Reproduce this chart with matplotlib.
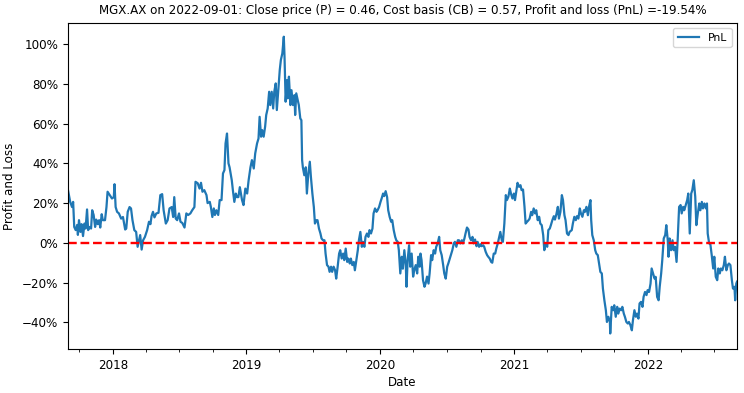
import pandas as pd
import matplotlib
matplotlib.use("Agg")
import matplotlib.pyplot as plt
import matplotlib.dates as mdates
from matplotlib.ticker import PercentFormatter

ticker = "MGX.AX"
as_of = "2022-09-01"
close_price = 0.46
cost_basis = 0.57
start = "2017-09-01"

# days since start, PnL in percent
days = [
    0, 6, 11, 14, 17, 21, 25, 27, 30, 34, 37, 41, 45, 48, 52, 55, 59, 63, 66, 70,
    74, 77, 81, 85, 88, 92, 95, 101, 105, 108, 114, 120, 125, 127, 130, 134, 139, 145, 150, 156,
    159, 163, 168, 172, 176, 181, 186, 190, 194, 197, 201, 205, 210, 216, 221, 225, 228, 232, 236, 241,
    247, 252, 257, 261, 267, 272, 277, 283, 287, 290, 294, 298, 303, 307, 312, 318, 323, 328, 334, 339,
    345, 348, 354, 359, 363, 367, 372, 378, 381, 387, 390, 394, 398, 401, 405, 410, 414, 419, 423, 427,
    430, 434, 438, 441, 447, 450, 454, 458, 461, 465, 469,
    475, 479, 484, 489, 493, 498, 502, 507, 511, 516, 520, 523, 527, 530, 534, 538, 541, 545, 549, 552,
    556, 560, 563, 567, 570, 574, 578, 581, 585, 589, 591, 594, 598, 600, 603, 607, 610, 614, 618, 620,
    623, 627, 630, 634, 637, 639, 641, 645, 649, 652, 656, 660, 663, 667, 671, 674, 678, 681, 685, 689,
    692, 696, 700, 703, 707, 711, 714, 718, 721, 725, 729, 732, 736, 740, 743, 747, 751, 754, 758, 762,
    765, 769, 772, 776, 780, 783, 787, 791, 794, 798, 802, 805, 809, 812, 816, 820, 823, 827, 831, 834,
    838, 842, 845, 849, 853, 856, 860, 863, 867, 871, 874, 878, 882, 885, 889, 893, 896, 900, 903, 907,
    911, 914, 918, 922, 924, 927, 931, 934, 938, 942, 945, 949, 953, 956, 960,
    962, 965, 969, 973, 976, 980, 984, 987, 991, 994, 998, 1002, 1005, 1009, 1013, 1016, 1020, 1024, 1027, 1031,
    1035, 1038, 1042, 1045, 1049, 1053, 1056, 1060, 1064, 1067, 1071, 1075, 1078, 1082, 1085, 1089, 1093, 1096, 1100, 1104,
    1107, 1111, 1115, 1118, 1122, 1126, 1129, 1133, 1136, 1140, 1144, 1147, 1151, 1155, 1158, 1162, 1166, 1169, 1173, 1176,
    1180, 1184, 1187, 1191, 1195, 1198, 1202, 1206, 1209, 1213, 1217, 1220, 1224, 1227, 1231, 1235, 1238, 1242, 1246, 1249,
    1253, 1257, 1260, 1264, 1267, 1271, 1275, 1278, 1282, 1286, 1289, 1293, 1297, 1300, 1304, 1308, 1311, 1315, 1318, 1322,
    1326, 1329, 1333, 1337, 1340, 1344, 1348, 1351, 1355, 1358, 1362, 1366, 1369,
    1375, 1378, 1382, 1386, 1389, 1393, 1397, 1400, 1404, 1408, 1411, 1415, 1419, 1422, 1426, 1428, 1431, 1435, 1439, 1442,
    1446, 1450, 1453, 1457, 1460, 1464, 1468, 1471, 1475, 1479, 1480, 1484, 1488, 1491, 1495, 1499, 1502, 1506, 1510, 1513,
    1517, 1520, 1524, 1528, 1531, 1535, 1539, 1542, 1546, 1550, 1553, 1557, 1560, 1564, 1568, 1571, 1575, 1579, 1582, 1586,
    1590, 1593, 1597, 1601, 1604, 1608, 1612, 1615, 1619, 1622, 1626, 1630, 1633, 1637, 1639, 1642, 1646, 1650, 1653, 1657,
    1661, 1664, 1668, 1672, 1675, 1679, 1682, 1686, 1690, 1693, 1697, 1701, 1704, 1708, 1712, 1715, 1719, 1723, 1726, 1730,
    1733, 1737, 1741, 1744, 1746, 1750, 1753, 1757, 1761, 1764, 1768, 1772, 1775, 1779, 1782, 1786, 1790, 1793, 1797, 1801,
    1804, 1808, 1812, 1815, 1819, 1821, 1824, 1826,
]
pnl = [
    26.5, 20.6, 18, 20.6, 8, 6.4, 9, 4, 11.4, 5.5, 9.4, 3.4, 9.7, 7.2, 16.8, 6.4, 8, 7.2, 16.4, 14,
    8, 11.7, 9.4, 11.4, 7.7, 14.4, 11.4, 11.4, 18, 25.7, 24, 22.3, 23, 29.5, 18, 15.6, 14.8, 12.2, 13, 6.7,
    7.2, 15.6, 18, 17.3, 11.4, 6.4, 5.5, -2, 1.3, 3.9, -3.4, 1.3, 3, 6.4, 10.6, 9.4, 13.4, 15.6, 12.8, 14.8,
    15.1, 24, 24.5, 16.4, 9.7, 11.4, 17.3, 18, 13, 23, 12.2, 11.4, 14.8, 10.6, 10, 7.7, 14.8, 14, 14.8, 16.4,
    18, 30.7, 30, 27.3, 30.2, 25.7, 26.5, 24, 20, 20.6, 18, 13, 17.3, 14, 16.4, 14, 21.5, 21.5, 34.9, 36.6,
    50, 55, 40, 38, 31.5, 26.5, 20.6, 24.8, 23, 23, 28,
    21.5, 19, 27.3, 24.8, 31.5, 38, 41.6, 37.4, 45, 50, 52.5, 63.4, 53.4, 56.7, 53.4, 58.4, 64.3, 67.6, 76, 69.3,
    76, 67.6, 76, 80.2, 66.8, 76.8, 87, 92, 95.3, 103.7, 93.6, 71, 81.9, 72.7, 83.6, 69.3, 76.8, 69.3, 74.3, 64.3,
    75.2, 71.8, 69.3, 62.6, 61.7, 41.6, 38, 34, 38, 24.8, 35, 40.8, 33.2, 24.8, 18, 9.7, 11.4, 11.4, 7.2, 4.7,
    2.2, 1.3, 1.3, -5.4, -11.2, -12, -14.6, -12, -14.6, -12, -13.8, -18, -12, -5.4, -3.7, -7.9, -5.4, -8.7, -2.9, -9.6,
    -7.9, -10.4, -7.9, -11.2, -9.6, -13.8, -8.7, -3.7, 1.3, 5.5, -2, 0.5, -2, 3, 4.7, 3, 6.4, 4.7, 7.2, 14.8,
    17.3, 15.6, 16.4, 18, 20.6, 22.3, 24.8, 23.5, 26, 23, 16.4, 13, 10.6, 11.4, 6.4, 3, 1.3, 0.5, -3.7, -15.4,
    -7, -13, -3.7, -11.2, -22.1, -8.7, -1.2, -12, -5.4, -17, -13.8, -11.2, -15.4, -7, -12,
    -5.4, -8.7, -18.8, -22.1, -20.5, -17, -20.5, -15.4, -6.2, -8.7, -3.7, -5.4, -2, -0.3, 3, -3.7, -6.2, -11.2, -15.4, -18,
    -12, -10.4, -7.9, -6.2, -3.7, -0.3, 0.5, -2, 1.3, 1.3, -0.3, 1.3, -0.3, 2.2, 4.7, 7.7, 6.7, 3, 1.3, 3,
    -0.3, 1.7, -1.7, 0.5, -2, -0.7, -1.7, -1.2, -2, -4.5, -6.2, -7, -7.9, -9.6, -10, -5.4, -5.4, -2.9, -0.3, 2.2,
    5.5, 1.3, 0.5, 9.7, 24, 21.5, 23.2, 27.3, 24.8, 22.3, 24.8, 21.5, 26.5, 30.2, 28.2, 29, 26.5, 26.8, 18.1, 9.7,
    10.6, 11.4, 12.2, 15.6, 13.9, 17.3, 14.8, 16.4, 11.4, 13.1, 9.7, 8.9, 3.9, -3.7, -0.3, -2, 6.4, 7.2, 8.9, 11.4,
    13.4, 11.7, 14.4, 18.1, 12.2, 15.6, 24, 21.5, 13.9, 11.4, 4.7, 3.9, 5.5,
    6.4, 9.7, 13.1, 11.4, 13.4, 12.2, 17.3, 14.8, 13.1, 16.4, 15.6, 18.1, 13.9, 18.1, 21.5, 11.4, 3.9, 1.3, -3.7, -5.4,
    -6.2, -11.2, -14.6, -15.4, -23, -28.9, -33.9, -39.8, -37.2, -39.8, -45.6, -32.2, -33.9, -31.4, -37.2, -32.2, -35.6, -33.1, -33.9, -32.2,
    -35.6, -37.2, -39.8, -40.6, -39.8, -41.4, -44, -38.9, -33.9, -37.2, -35.6, -38.1, -30.5, -29.7, -32.2, -27.2, -24.7, -26.3, -23.8, -24.7,
    -20.5, -12.9, -15.4, -18, -17.1, -27.2, -28.9, -22.1, -15.4, -8.7, 2.2, 3.9, 8.9, 1.3, -7, 2.2, -3.7, 1.3, -3.7, -2,
    -9.6, 1.3, 18.1, 19, 14.8, 18.1, 16.4, 19, 21.5, 24.8, 4.7, 24.8, 26.5, 31.5, 23.2, 8.9, 14.8, 19.8, 16.4, 20.6,
    17.3, 19.8, 17.3, 19.8, 4.7, -0.3, -0.3, -6.2, -12.9, -7, -17.1, -18.8, -12.9, -15.4, -12.9, -13.8, -11.2, -7, -13.8, -11.2,
    -10.4, -11.2, -18.8, -23, -22.1, -28.9, -20.5, -19.54,
]

dates = pd.Timestamp(start) + pd.to_timedelta(days, unit="D")
s = pd.Series(pnl, index=dates, name="PnL")

plt.rcParams["font.size"] = 8.6
fig = plt.figure(figsize=(7.44, 3.93), dpi=100)
ax = fig.add_axes([0.0914, 0.111, 0.8992, 0.831])

ax.plot(s.index, s.values, color="#1f77b4", lw=1.6, label="PnL")
ax.axhline(0, color="red", ls="--", lw=1.7)

ax.set_xlim(s.index[0], s.index[-1])
ax.set_ylim(-53.6, 110.7)
ax.yaxis.set_major_formatter(PercentFormatter(100, decimals=0))
ax.xaxis.set_major_locator(mdates.YearLocator())
ax.xaxis.set_major_formatter(mdates.DateFormatter("%Y"))
ax.xaxis.set_minor_locator(mdates.MonthLocator(bymonth=[1, 4, 7, 10]))

ax.set_xlabel("Date", labelpad=3)
ax.set_ylabel("Profit and Loss")
final = s.iloc[-1]
ax.set_title(f"{ticker} on {as_of}: Close price (P) = {close_price:.2f}, "
             f"Cost basis (CB) = {cost_basis:.2f}, Profit and loss (PnL) ={final:.2f}%",
             fontsize=8.6)
ax.legend(loc="upper right", fontsize=7.8)

fig.savefig("out.png", dpi=100)
